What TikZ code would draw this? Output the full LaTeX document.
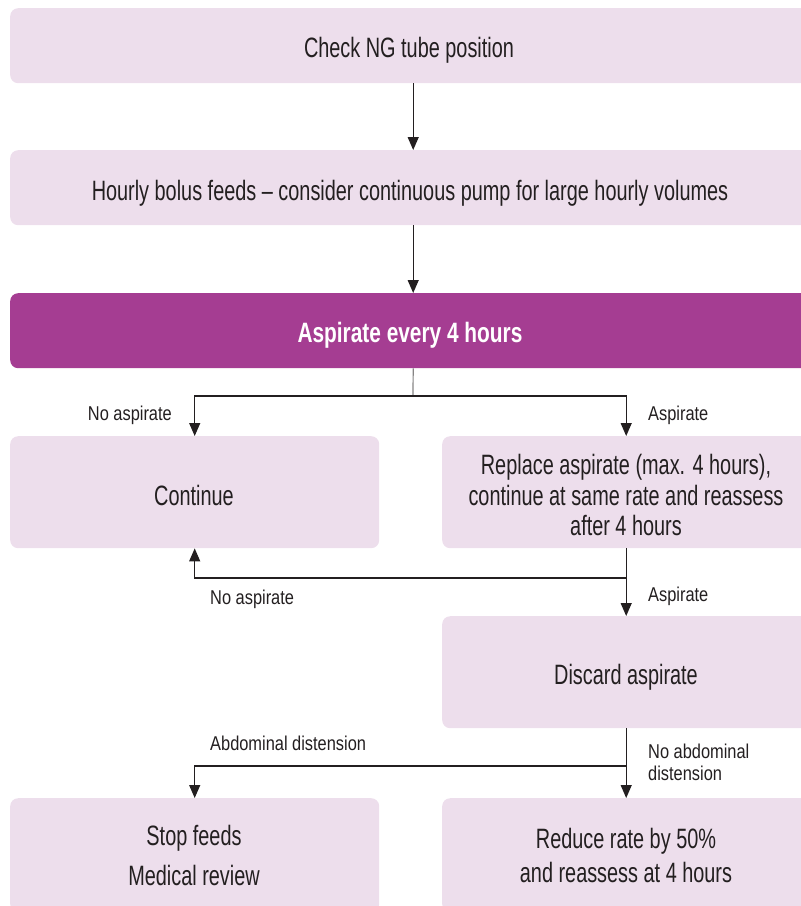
\documentclass[tikz,border=0pt]{standalone}
\usepackage{fontspec}
\setmainfont{Liberation Sans}[FakeStretch=0.71]
\newfontfamily\boldcond{Liberation Sans Bold}[FakeStretch=0.745]
\newfontfamily\tagfont{Liberation Sans}[FakeStretch=0.82]
\usetikzlibrary{arrows.meta}
\definecolor{boxfill}{HTML}{EDDEEC}
\definecolor{headfill}{HTML}{A53D92}
\definecolor{ink}{HTML}{231F20}
\tikzset{
  box/.style={fill=boxfill, draw=none, rounded corners=8pt, anchor=north west,
    inner sep=0pt},
  headbox/.style={box, fill=headfill},
  boxtext/.style={text=ink, inner sep=0pt, align=center,
    font=\fontsize{28}{30.5}\selectfont},
  headtext/.style={boxtext, text=white, font=\boldcond\fontsize{28}{30.5}\selectfont},
  tag/.style={text=ink, inner sep=0pt, align=left,
    font=\tagfont\fontsize{20}{22}\selectfont},
  link/.style={draw=ink, line width=1.2pt},
  arr/.style={link, -{Triangle[length=13pt,width=11pt]}},
}
\begin{document}
\begin{tikzpicture}[x=1pt, y=-1pt]
  \clip (0,0) rectangle (801,906);
  \useasboundingbox (0,0) rectangle (801,906);

  % process boxes
  \node[box, minimum width=806pt, minimum height=75pt] (check) at (10,8) {};
  \node[box, minimum width=806pt, minimum height=75pt] (bolus) at (10,150) {};
  \node[headbox, minimum width=806pt, minimum height=75pt] (asp) at (10,293) {};
  \node[box, minimum width=369pt, minimum height=112pt] (cont) at (10,436) {};
  \node[box, minimum width=368pt, minimum height=112pt] (repl) at (442,436) {};
  \node[box, minimum width=368pt, minimum height=112pt] (disc) at (442,616) {};
  \node[box, minimum width=369pt, minimum height=114pt] (stop) at (10,798) {};
  \node[box, minimum width=368pt, minimum height=114pt] (reduce) at (442,798) {};

  % box texts
  \node[boxtext, anchor=base] (checkT) at (409,57) {Check NG tube position};
  \node[boxtext, anchor=base] (bolusT) at (410,200)
    {Hourly bolus feeds -- consider continuous pump for large hourly volumes};
  \node[headtext, anchor=base] (aspT) at (410,342) {Aspirate every 4 hours};
  \node[boxtext, anchor=base] (contT) at (194,505) {Continue};
  \node[boxtext] (replT) at (626,495)
    {Replace aspirate (max. 4 hours),\\continue at same rate and reassess\\after 4 hours};
  \node[boxtext, anchor=base] (discT) at (626,684) {Discard aspirate};
  \node[boxtext, font=\fontsize{28}{40}\selectfont] (stopT) at (194,855)
    {Stop feeds\\Medical review};
  \node[boxtext, font=\fontsize{28}{34}\selectfont] (reduceT) at (626,855)
    {Reduce rate by 50\%\\and reassess at 4 hours};

  % branch points
  \coordinate (split1) at (413,396);
  \coordinate (split2) at (626,578);
  \coordinate (split3) at (626,766);

  % connectors
  \draw[arr] (check) -- (bolus);
  \draw[arr] (bolus) -- (asp);
  \draw[link, draw=ink!55] (asp.south) -- (split1);
  \draw[arr] (split1) -| (cont.north);
  \draw[arr] (split1) -| (repl.north);
  \draw[arr] (repl.south) -- (disc.north);
  \draw[arr] (split2) -| (cont.south);
  \draw[arr] (disc.south) -- (reduce.north);
  \draw[arr] (split3) -| (stop.north);

  % branch labels
  \node[tag, anchor=base east] (t1) at (172,420) {No aspirate};
  \node[tag, anchor=base west] (t2) at (648,420) {Aspirate};
  \node[tag, anchor=base west] (t3) at (210,604) {No aspirate};
  \node[tag, anchor=base west] (t4) at (648,601) {Aspirate};
  \node[tag, anchor=base west] (t5) at (210,750) {Abdominal distension};
  \node[tag, anchor=north west] (t6) at (648,744) {No abdominal\\distension};
\end{tikzpicture}
\end{document}
